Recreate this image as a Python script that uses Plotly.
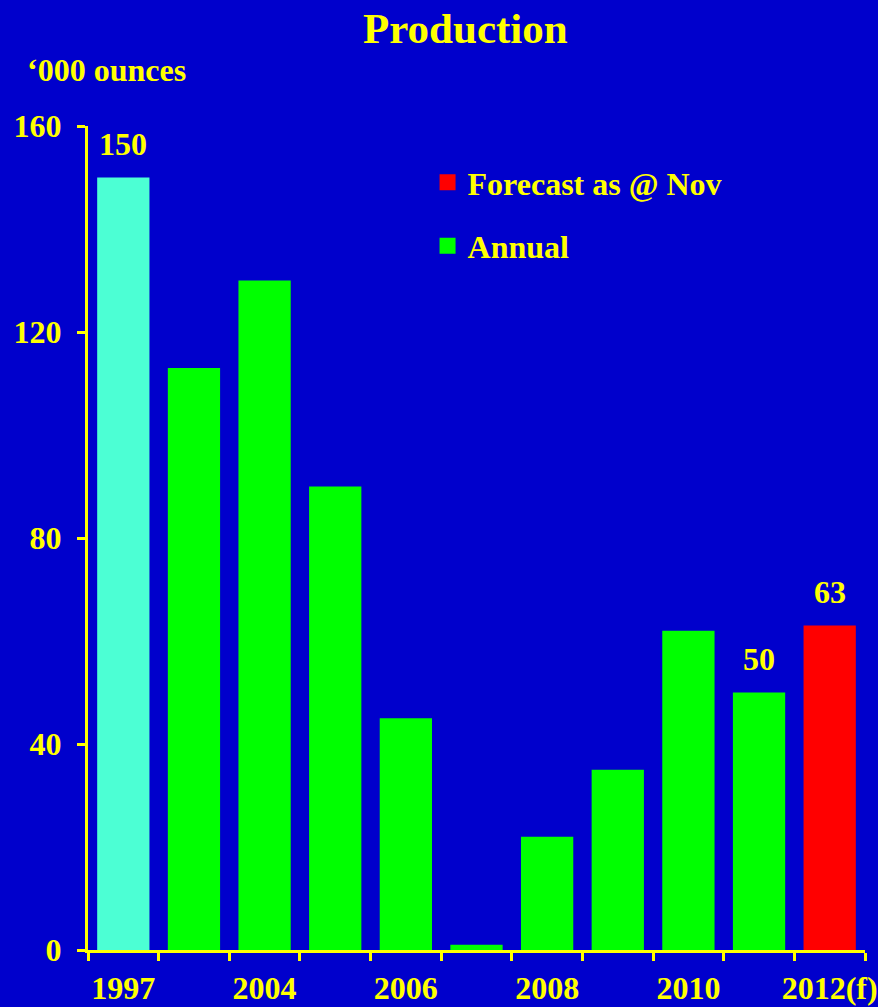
import plotly.graph_objects as go

# Production, thousand ounces
years = ["1997", "2003", "2004", "2005", "2006", "2007", "2008", "2009", "2010", "2011", "2012(f)"]
annual = [150, 113, 130, 90, 45, 1, 22, 35, 62, 50]
forecast = [63]
shown_year_labels = ["1997", "2004", "2006", "2008", "2010", "2012(f)"]
labelled_years = ["1997", "2011", "2012(f)"]

BG = "#0000CC"
YELLOW = "#FFFF00"
GREEN = "#00FF00"
AQUA = "#4CFFD4"
RED = "#FF0000"
FONT = "Liberation Serif, Times New Roman, serif"
FS = 32

annual_years = years[:len(annual)]
forecast_years = years[len(annual):]
annual_colors = [AQUA] + [GREEN] * (len(annual) - 1)

fig = go.Figure()

fig.add_trace(go.Bar(
    x=annual_years, y=annual, marker=dict(color=annual_colors, line=dict(width=0)),
    showlegend=False, hoverinfo="x+y",
))
fig.add_trace(go.Bar(
    x=forecast_years, y=forecast, marker=dict(color=RED, line=dict(width=0)),
    showlegend=False, hoverinfo="x+y",
))

# legend entries drawn as square swatches
for name, col in [("Forecast as @ Nov", RED), ("Annual", GREEN)]:
    fig.add_trace(go.Scatter(
        x=[years[0]], y=[None], mode="markers", name=name, legendgroup=name,
        marker=dict(symbol="square", size=18, color=col, line=dict(width=0)),
    ))

# value labels above selected bars (positioned by category index)
values = dict(zip(years, annual + forecast))
for yr in labelled_years:
    fig.add_annotation(
        x=years.index(yr), y=values[yr], text=str(values[yr]), showarrow=False,
        yanchor="bottom", yshift=14,
        font=dict(family=FONT, size=FS, color=YELLOW, weight="bold"),
    )

fig.add_annotation(
    xref="paper", yref="paper", x=-0.0806, y=1.068, xanchor="left", yanchor="middle",
    text="‘000 ounces", showarrow=False,
    font=dict(family=FONT, size=FS, color=YELLOW, weight="bold"),
)

tick_text = [y if y in shown_year_labels else "" for y in years]

fig.update_layout(
    width=878, height=1007,
    margin=dict(l=88, r=13, t=126, b=57, autoexpand=False),
    paper_bgcolor=BG, plot_bgcolor=BG,
    barmode="overlay", bargap=0.26,
    title=dict(
        text="Production", x=0.53, xref="container", xanchor="center",
        y=1 - 28 / 1007, yref="container", yanchor="middle",
        font=dict(family=FONT, size=43, color=YELLOW, weight="bold"),
    ),
    font=dict(family=FONT, size=FS, color=YELLOW),
    legend=dict(
        x=0.437, y=0.965, xanchor="left", yanchor="top", bgcolor="rgba(0,0,0,0)",
        font=dict(family=FONT, size=FS, color=YELLOW, weight="bold"),
        tracegroupgap=19, traceorder="grouped",
    ),
    xaxis=dict(
        type="category", categoryorder="array", categoryarray=years,
        range=[-0.5, len(years) - 0.5], autorange=False, automargin=False,
        tickmode="array", tickvals=years, ticktext=tick_text, tickangle=0,
        tickson="boundaries", ticks="outside", ticklen=8, tickwidth=3, tickcolor=YELLOW,
        showline=True, linecolor=YELLOW, linewidth=3, showgrid=False, zeroline=False,
        tickfont=dict(family=FONT, size=FS, color=YELLOW, weight="bold"),
        ticklabelstandoff=8,
    ),
    yaxis=dict(
        range=[0, 160], autorange=False, automargin=False,
        tickmode="array", tickvals=[0, 40, 80, 120, 160],
        ticks="outside", ticklen=8, tickwidth=3, tickcolor=YELLOW,
        showline=True, linecolor=YELLOW, linewidth=3, showgrid=False, zeroline=False,
        tickfont=dict(family=FONT, size=FS, color=YELLOW, weight="bold"),
        ticklabelstandoff=9,
    ),
)

fig.write_html("out.html")
